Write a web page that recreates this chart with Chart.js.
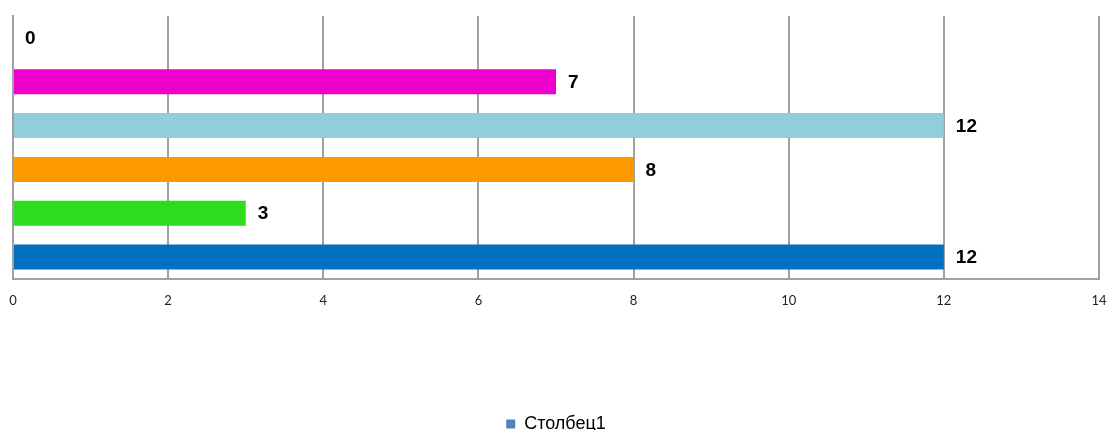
<!DOCTYPE html>
<html>
<head>
<meta charset="utf-8">
<script src="https://cdn.jsdelivr.net/npm/chart.js@4/dist/chart.umd.min.js"></script>
<style>
  html, body { margin: 0; padding: 0; background: #ffffff; overflow: hidden; }
  #wrap { width: 1108px; height: 430px; position: relative; }
</style>
</head>
<body>
<div id="wrap"><canvas id="myChart1"></canvas></div>
<script>
// categories are unlabeled in the original, bottom to top
var categories = ['', '', '', '', '', ''];
var seriesName = 'Столбец1';
var seriesValues = [12, 3, 8, 12, 7, 0];
var barColors = ['#0070C0', '#2EDC1E', '#FF9900', '#92CDDC', '#EE00CC', '#0070C0'];
var tickValues = [0, 2, 4, 6, 8, 10, 12, 14];

// draws the bold value next to the end of every bar
var valueLabels = {
  id: 'valueLabels',
  afterDatasetsDraw: function(chart) {
    var ctx = chart.ctx;
    var meta = chart.getDatasetMeta(0);
    ctx.save();
    ctx.font = 'bold 19px Arial, "Liberation Sans", sans-serif';
    ctx.fillStyle = '#000000';
    ctx.textAlign = 'left';
    ctx.textBaseline = 'middle';
    meta.data.forEach(function(bar, i) {
      ctx.fillText(String(seriesValues[i]), bar.x + 12, bar.y + 1);
    });
    ctx.restore();
  }
};

var ctx = document.getElementById('myChart1');
var myChart = new Chart(ctx, {
  type: 'bar',
  data: {
    labels: categories,
    datasets: [{
      label: seriesName,
      data: seriesValues,
      backgroundColor: barColors,
      borderWidth: 0,
      categoryPercentage: 1.0,
      barPercentage: 0.57
    }]
  },
  options: {
    indexAxis: 'y',
    responsive: true,
    maintainAspectRatio: false,
    animation: false,
    layout: { padding: { top: 16, left: 13, right: 9, bottom: -13 } },
    scales: {
      x: {
        min: 0,
        max: 14,
        afterBuildTicks: function(scale) {
          scale.ticks = tickValues.map(function(v) { return { value: v }; });
        },
        afterFit: function(scale) {
          scale.height = 132;
          scale.paddingLeft = 0;
          scale.paddingRight = 0;
        },
        grid: { color: '#A0A0A0', lineWidth: 2, drawTicks: false },
        border: { color: '#A0A0A0', width: 2 },
        ticks: {
          padding: 14,
          color: '#222222',
          font: { family: 'Lato, "Open Sans", sans-serif', size: 13 },
          maxRotation: 0
        }
      },
      y: {
        reverse: true,
        afterFit: function(scale) { scale.width = 0; },
        grid: { display: false, drawTicks: false },
        border: { color: '#A0A0A0', width: 2 },
        ticks: { display: false }
      }
    },
    plugins: {
      legend: {
        position: 'bottom',
        labels: {
          boxWidth: 9,
          boxHeight: 9,
          padding: 4,
          color: '#000000',
          font: { family: 'Arial, "Liberation Sans", sans-serif', size: 18 },
          generateLabels: function(chart) {
            return [{ text: seriesName, fillStyle: '#4F81BD', strokeStyle: '#4F81BD', lineWidth: 0, datasetIndex: 0 }];
          }
        }
      },
      tooltip: { enabled: false }
    }
  },
  plugins: [valueLabels]
});
</script>
</body>
</html>
